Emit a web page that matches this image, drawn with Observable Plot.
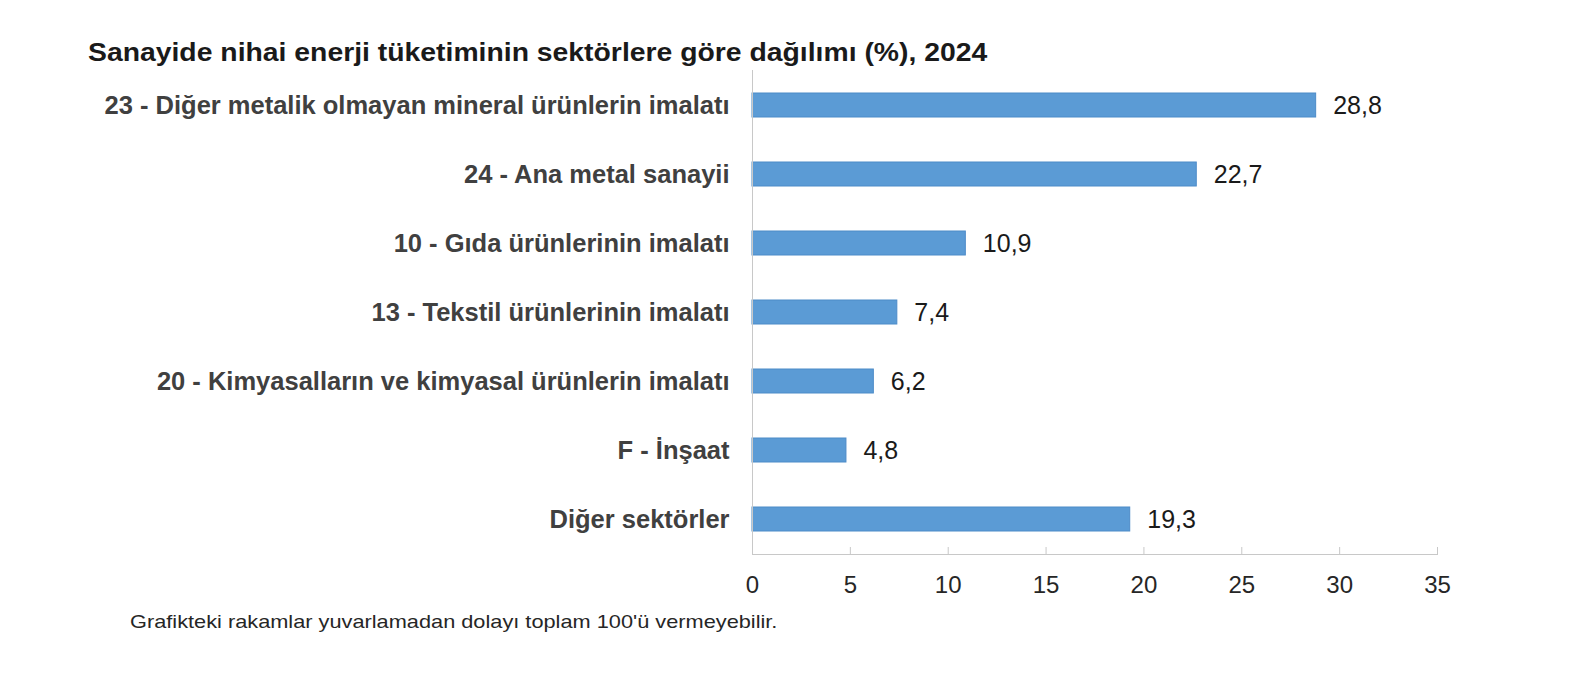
<!DOCTYPE html>
<html>
<head>
<meta charset="utf-8">
<script src="https://cdn.jsdelivr.net/npm/d3@7"></script>
<script src="https://cdn.jsdelivr.net/npm/@observablehq/plot@0.6"></script>
<style>
  html, body { margin: 0; padding: 0; background: #fff; }
  body { width: 1572px; height: 675px; overflow: hidden; font-family: "Liberation Sans", Arial, sans-serif; }
  #title { box-sizing: border-box; height: 70px; padding: 37px 0 0 88px; font-size: 26px; line-height: 30px; font-weight: bold; color: #1a1a1a; white-space: nowrap; }
  #title span { display: inline-block; transform: scaleX(1.09); transform-origin: left center; }
  #note { box-sizing: border-box; height: 75px; padding: 10px 0 0 130px; font-size: 19px; line-height: 24px; color: #262626; white-space: nowrap; }
  #note span { display: inline-block; transform: scaleX(1.145); transform-origin: left center; }
  svg { display: block; }
</style>
</head>
<body>
<div id="title"><span>Sanayide nihai enerji tüketiminin sektörlere göre dağılımı (%), 2024</span></div>
<div id="chart"></div>
<div id="note"><span>Grafikteki rakamlar yuvarlamadan dolayı toplam 100'ü vermeyebilir.</span></div>
<script>
const categories = [
  "23 - Diğer metalik olmayan mineral ürünlerin imalatı",
  "24 - Ana metal sanayii",
  "10 - Gıda ürünlerinin imalatı",
  "13 - Tekstil ürünlerinin imalatı",
  "20 - Kimyasalların ve kimyasal ürünlerin imalatı",
  "F - İnşaat",
  "Diğer sektörler"
];
const values = [28.8, 22.7, 10.9, 7.4, 6.2, 4.8, 19.3];
const xTicks = [0, 5, 10, 15, 20, 25, 30, 35];

const data = categories.map((c, i) => ({category: c, value: values[i]}));
const fmt = v => v.toFixed(1).replace(".", ",");

const chart = Plot.plot({
  width: 1572,
  height: 530,
  marginTop: 0,
  marginBottom: 46,
  marginLeft: 752,
  marginRight: 135,
  style: {fontFamily: "'Liberation Sans', Arial, sans-serif", background: "#fff"},
  x: {domain: [0, 35]},
  y: {domain: categories, paddingInner: 0.653, paddingOuter: 0.3265},
  marks: [
    Plot.barX(data, {x: "value", y: "category", fill: "#5b9bd5", stroke: "#4d8bc8", strokeWidth: 1}),
    Plot.frame({anchor: "left", stroke: "#c8c8c8"}),
    Plot.frame({anchor: "bottom", stroke: "#c8c8c8"}),
    Plot.axisX({ticks: xTicks, tickSize: 7, dy: -7, tickFormat: () => "", stroke: "#c8c8c8", label: null}),
    Plot.axisX({ticks: xTicks, tickSize: 0, tickPadding: 21, fontSize: 24, fill: "#262626", label: null}),
    Plot.axisY({tickSize: 0, tickPadding: 23, fontSize: 25.5, fontWeight: "bold", fill: "#404040", label: null}),
    Plot.text(data, {x: "value", y: "category", text: d => fmt(d.value), textAnchor: "start", dx: 17, fontSize: 25, fill: "#1a1a1a"})
  ]
});
document.getElementById("chart").appendChild(chart);
</script>
</body>
</html>
